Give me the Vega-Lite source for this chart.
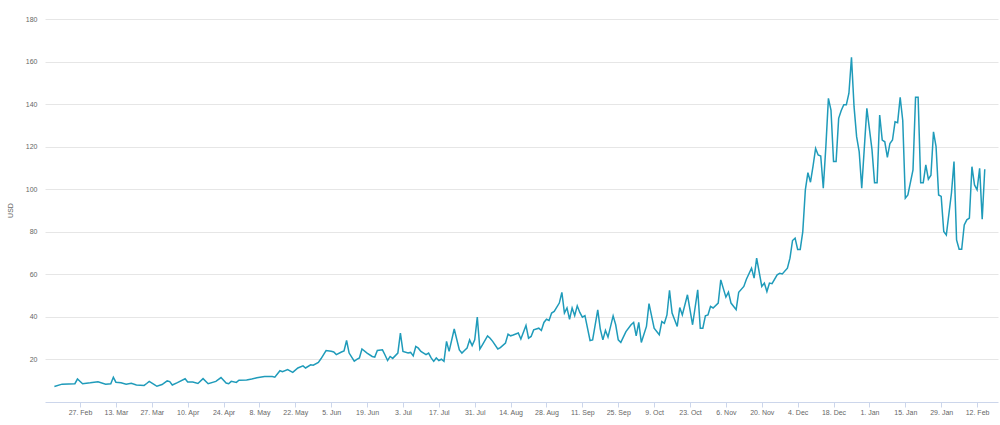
{
  "$schema": "https://vega.github.io/schema/vega-lite/v6.json",
  "width": 953,
  "height": 383,
  "autosize": {"type": "none"},
  "padding": {"left": 45, "top": 19, "right": 2, "bottom": 23},
  "background": "white",
  "config": {"view": {"stroke": null}, "font": "Liberation Sans"},
  "data": {"values": [
    {"date": "2017-02-17", "usd": 7.3}, {"date": "2017-02-20", "usd": 8.4}, {"date": "2017-02-25", "usd": 8.6}, {"date": "2017-02-26", "usd": 10.8}, {"date": "2017-02-28", "usd": 8.6},
    {"date": "2017-03-03", "usd": 9.0}, {"date": "2017-03-06", "usd": 9.5}, {"date": "2017-03-09", "usd": 8.4}, {"date": "2017-03-11", "usd": 8.6}, {"date": "2017-03-12", "usd": 11.6},
    {"date": "2017-03-13", "usd": 9.3}, {"date": "2017-03-15", "usd": 9.0}, {"date": "2017-03-17", "usd": 8.4}, {"date": "2017-03-19", "usd": 8.8}, {"date": "2017-03-21", "usd": 8.0},
    {"date": "2017-03-24", "usd": 7.8}, {"date": "2017-03-25", "usd": 8.7}, {"date": "2017-03-26", "usd": 9.7}, {"date": "2017-03-28", "usd": 8.2}, {"date": "2017-03-29", "usd": 7.4},
    {"date": "2017-03-31", "usd": 8.2}, {"date": "2017-04-02", "usd": 9.9}, {"date": "2017-04-03", "usd": 9.6}, {"date": "2017-04-04", "usd": 8.0}, {"date": "2017-04-06", "usd": 9.1},
    {"date": "2017-04-09", "usd": 10.9}, {"date": "2017-04-10", "usd": 9.4}, {"date": "2017-04-12", "usd": 9.4}, {"date": "2017-04-14", "usd": 8.7}, {"date": "2017-04-16", "usd": 11.0},
    {"date": "2017-04-18", "usd": 8.6}, {"date": "2017-04-21", "usd": 9.7}, {"date": "2017-04-23", "usd": 11.5}, {"date": "2017-04-25", "usd": 8.9}, {"date": "2017-04-26", "usd": 8.6},
    {"date": "2017-04-27", "usd": 9.7}, {"date": "2017-04-29", "usd": 9.2}, {"date": "2017-04-30", "usd": 10.2}, {"date": "2017-05-03", "usd": 10.3}, {"date": "2017-05-05", "usd": 10.8},
    {"date": "2017-05-07", "usd": 11.4}, {"date": "2017-05-10", "usd": 12.0}, {"date": "2017-05-13", "usd": 12.0}, {"date": "2017-05-14", "usd": 11.7}, {"date": "2017-05-16", "usd": 14.7},
    {"date": "2017-05-17", "usd": 14.2}, {"date": "2017-05-19", "usd": 15.2}, {"date": "2017-05-21", "usd": 13.9}, {"date": "2017-05-23", "usd": 16.0}, {"date": "2017-05-25", "usd": 17.0},
    {"date": "2017-05-26", "usd": 16.0}, {"date": "2017-05-28", "usd": 17.5}, {"date": "2017-05-29", "usd": 17.3}, {"date": "2017-05-31", "usd": 18.6}, {"date": "2017-06-01", "usd": 20.3},
    {"date": "2017-06-03", "usd": 24.2}, {"date": "2017-06-05", "usd": 23.8}, {"date": "2017-06-06", "usd": 23.5}, {"date": "2017-06-07", "usd": 22.3}, {"date": "2017-06-09", "usd": 23.5},
    {"date": "2017-06-10", "usd": 24.0}, {"date": "2017-06-11", "usd": 28.9}, {"date": "2017-06-12", "usd": 23.0}, {"date": "2017-06-14", "usd": 19.2}, {"date": "2017-06-15", "usd": 20.0},
    {"date": "2017-06-16", "usd": 20.7}, {"date": "2017-06-17", "usd": 24.9}, {"date": "2017-06-19", "usd": 23.0}, {"date": "2017-06-21", "usd": 21.4}, {"date": "2017-06-22", "usd": 21.1},
    {"date": "2017-06-23", "usd": 24.2}, {"date": "2017-06-25", "usd": 24.5}, {"date": "2017-06-26", "usd": 22.1}, {"date": "2017-06-27", "usd": 19.5}, {"date": "2017-06-28", "usd": 21.4},
    {"date": "2017-06-29", "usd": 20.5}, {"date": "2017-07-01", "usd": 23.0}, {"date": "2017-07-02", "usd": 32.4}, {"date": "2017-07-03", "usd": 23.8}, {"date": "2017-07-05", "usd": 23.0},
    {"date": "2017-07-06", "usd": 23.3}, {"date": "2017-07-07", "usd": 21.7}, {"date": "2017-07-08", "usd": 26.1}, {"date": "2017-07-09", "usd": 25.3}, {"date": "2017-07-10", "usd": 23.8},
    {"date": "2017-07-12", "usd": 22.3}, {"date": "2017-07-13", "usd": 23.0}, {"date": "2017-07-14", "usd": 20.7}, {"date": "2017-07-15", "usd": 19.1}, {"date": "2017-07-16", "usd": 20.7},
    {"date": "2017-07-17", "usd": 19.5}, {"date": "2017-07-18", "usd": 20.1}, {"date": "2017-07-19", "usd": 19.1}, {"date": "2017-07-20", "usd": 28.5}, {"date": "2017-07-21", "usd": 23.8},
    {"date": "2017-07-23", "usd": 34.3}, {"date": "2017-07-25", "usd": 24.5}, {"date": "2017-07-26", "usd": 23.0}, {"date": "2017-07-27", "usd": 24.2}, {"date": "2017-07-28", "usd": 25.3},
    {"date": "2017-07-29", "usd": 29.2}, {"date": "2017-07-30", "usd": 26.5}, {"date": "2017-07-31", "usd": 29.2}, {"date": "2017-08-01", "usd": 39.9}, {"date": "2017-08-02", "usd": 24.9},
    {"date": "2017-08-03", "usd": 26.9}, {"date": "2017-08-05", "usd": 31.1}, {"date": "2017-08-06", "usd": 30.0}, {"date": "2017-08-07", "usd": 28.5}, {"date": "2017-08-09", "usd": 24.9},
    {"date": "2017-08-10", "usd": 25.6}, {"date": "2017-08-12", "usd": 27.7}, {"date": "2017-08-13", "usd": 31.9}, {"date": "2017-08-14", "usd": 31.1}, {"date": "2017-08-15", "usd": 31.5},
    {"date": "2017-08-17", "usd": 32.4}, {"date": "2017-08-18", "usd": 29.6}, {"date": "2017-08-20", "usd": 36.0}, {"date": "2017-08-21", "usd": 30.0}, {"date": "2017-08-22", "usd": 30.8},
    {"date": "2017-08-23", "usd": 33.9}, {"date": "2017-08-25", "usd": 34.7}, {"date": "2017-08-26", "usd": 33.6}, {"date": "2017-08-27", "usd": 37.4}, {"date": "2017-08-28", "usd": 38.9},
    {"date": "2017-08-29", "usd": 38.3}, {"date": "2017-08-30", "usd": 41.8}, {"date": "2017-08-31", "usd": 42.6}, {"date": "2017-09-02", "usd": 46.5}, {"date": "2017-09-03", "usd": 51.5},
    {"date": "2017-09-04", "usd": 41.8}, {"date": "2017-09-05", "usd": 44.2}, {"date": "2017-09-06", "usd": 38.9}, {"date": "2017-09-07", "usd": 44.2}, {"date": "2017-09-08", "usd": 40.6},
    {"date": "2017-09-09", "usd": 45.2}, {"date": "2017-09-10", "usd": 42.1}, {"date": "2017-09-11", "usd": 39.9}, {"date": "2017-09-12", "usd": 40.6}, {"date": "2017-09-14", "usd": 28.9},
    {"date": "2017-09-15", "usd": 29.2}, {"date": "2017-09-17", "usd": 43.3}, {"date": "2017-09-18", "usd": 34.2}, {"date": "2017-09-19", "usd": 29.2}, {"date": "2017-09-20", "usd": 33.6},
    {"date": "2017-09-21", "usd": 30.5}, {"date": "2017-09-23", "usd": 40.5}, {"date": "2017-09-24", "usd": 36.3}, {"date": "2017-09-25", "usd": 29.2}, {"date": "2017-09-26", "usd": 28.0},
    {"date": "2017-09-28", "usd": 33.1}, {"date": "2017-09-30", "usd": 36.3}, {"date": "2017-10-01", "usd": 37.4}, {"date": "2017-10-02", "usd": 31.1}, {"date": "2017-10-03", "usd": 37.4},
    {"date": "2017-10-04", "usd": 28.0}, {"date": "2017-10-06", "usd": 35.5}, {"date": "2017-10-07", "usd": 46.2}, {"date": "2017-10-09", "usd": 34.7}, {"date": "2017-10-11", "usd": 31.6},
    {"date": "2017-10-12", "usd": 37.8}, {"date": "2017-10-13", "usd": 37.0}, {"date": "2017-10-14", "usd": 40.9}, {"date": "2017-10-15", "usd": 52.5}, {"date": "2017-10-16", "usd": 41.8},
    {"date": "2017-10-18", "usd": 35.5}, {"date": "2017-10-19", "usd": 44.4}, {"date": "2017-10-20", "usd": 40.9}, {"date": "2017-10-22", "usd": 50.4}, {"date": "2017-10-24", "usd": 36.3},
    {"date": "2017-10-26", "usd": 52.7}, {"date": "2017-10-27", "usd": 34.7}, {"date": "2017-10-28", "usd": 34.7}, {"date": "2017-10-29", "usd": 40.5}, {"date": "2017-10-30", "usd": 40.9},
    {"date": "2017-10-31", "usd": 44.9}, {"date": "2017-11-01", "usd": 44.2}, {"date": "2017-11-03", "usd": 46.5}, {"date": "2017-11-04", "usd": 57.4}, {"date": "2017-11-06", "usd": 49.3},
    {"date": "2017-11-07", "usd": 51.6}, {"date": "2017-11-08", "usd": 46.5}, {"date": "2017-11-10", "usd": 43.4}, {"date": "2017-11-11", "usd": 51.6}, {"date": "2017-11-13", "usd": 54.3},
    {"date": "2017-11-14", "usd": 57.7}, {"date": "2017-11-16", "usd": 62.9}, {"date": "2017-11-17", "usd": 58.2}, {"date": "2017-11-18", "usd": 67.6}, {"date": "2017-11-20", "usd": 54.3},
    {"date": "2017-11-21", "usd": 55.9}, {"date": "2017-11-22", "usd": 51.9}, {"date": "2017-11-23", "usd": 55.9}, {"date": "2017-11-24", "usd": 55.6}, {"date": "2017-11-26", "usd": 59.8},
    {"date": "2017-11-27", "usd": 60.5}, {"date": "2017-11-28", "usd": 60.2}, {"date": "2017-11-30", "usd": 62.9}, {"date": "2017-12-01", "usd": 67.6}, {"date": "2017-12-02", "usd": 75.9},
    {"date": "2017-12-03", "usd": 77.0}, {"date": "2017-12-04", "usd": 71.7}, {"date": "2017-12-05", "usd": 71.7}, {"date": "2017-12-06", "usd": 80.1}, {"date": "2017-12-07", "usd": 99.7},
    {"date": "2017-12-08", "usd": 107.8}, {"date": "2017-12-09", "usd": 103.3}, {"date": "2017-12-10", "usd": 110.9}, {"date": "2017-12-11", "usd": 119.2}, {"date": "2017-12-12", "usd": 116.1},
    {"date": "2017-12-13", "usd": 115.6}, {"date": "2017-12-14", "usd": 100.5}, {"date": "2017-12-15", "usd": 120.0}, {"date": "2017-12-16", "usd": 142.7}, {"date": "2017-12-17", "usd": 137.2},
    {"date": "2017-12-18", "usd": 113.0}, {"date": "2017-12-19", "usd": 113.0}, {"date": "2017-12-20", "usd": 133.3}, {"date": "2017-12-21", "usd": 137.0}, {"date": "2017-12-22", "usd": 139.7},
    {"date": "2017-12-23", "usd": 139.7}, {"date": "2017-12-24", "usd": 145.1}, {"date": "2017-12-25", "usd": 162.0}, {"date": "2017-12-26", "usd": 138.8}, {"date": "2017-12-27", "usd": 124.7},
    {"date": "2017-12-28", "usd": 117.7}, {"date": "2017-12-29", "usd": 100.5}, {"date": "2017-12-31", "usd": 138.0}, {"date": "2018-01-02", "usd": 118.6}, {"date": "2018-01-03", "usd": 103.1},
    {"date": "2018-01-04", "usd": 103.1}, {"date": "2018-01-05", "usd": 134.9}, {"date": "2018-01-06", "usd": 123.1}, {"date": "2018-01-07", "usd": 122.3}, {"date": "2018-01-08", "usd": 115.0},
    {"date": "2018-01-09", "usd": 121.5}, {"date": "2018-01-10", "usd": 123.1}, {"date": "2018-01-11", "usd": 131.7}, {"date": "2018-01-12", "usd": 131.3}, {"date": "2018-01-13", "usd": 143.2},
    {"date": "2018-01-14", "usd": 132.3}, {"date": "2018-01-15", "usd": 95.8}, {"date": "2018-01-16", "usd": 97.3}, {"date": "2018-01-18", "usd": 109.1}, {"date": "2018-01-19", "usd": 143.2},
    {"date": "2018-01-20", "usd": 143.2}, {"date": "2018-01-21", "usd": 103.1}, {"date": "2018-01-22", "usd": 103.1}, {"date": "2018-01-23", "usd": 111.4}, {"date": "2018-01-24", "usd": 104.7},
    {"date": "2018-01-25", "usd": 106.6}, {"date": "2018-01-26", "usd": 127.0}, {"date": "2018-01-27", "usd": 120.0}, {"date": "2018-01-28", "usd": 97.3}, {"date": "2018-01-29", "usd": 96.6},
    {"date": "2018-01-30", "usd": 80.1}, {"date": "2018-01-31", "usd": 78.5}, {"date": "2018-02-02", "usd": 98.1}, {"date": "2018-02-03", "usd": 113.0}, {"date": "2018-02-04", "usd": 76.2},
    {"date": "2018-02-05", "usd": 71.8}, {"date": "2018-02-06", "usd": 71.8}, {"date": "2018-02-07", "usd": 83.2}, {"date": "2018-02-08", "usd": 85.6}, {"date": "2018-02-09", "usd": 86.4},
    {"date": "2018-02-10", "usd": 110.6}, {"date": "2018-02-11", "usd": 102.0}, {"date": "2018-02-12", "usd": 99.7}, {"date": "2018-02-13", "usd": 109.8}, {"date": "2018-02-14", "usd": 85.9},
    {"date": "2018-02-15", "usd": 109.4}
  ]},
  "mark": {"type": "line", "color": "#1f9bba", "strokeWidth": 1.5},
  "encoding": {
    "x": {
      "field": "date",
      "type": "temporal",
      "scale": {"type": "utc", "domain": [
        {"year": 2017, "month": 2, "date": 13, "hours": 8, "utc": true},
        {"year": 2018, "month": 2, "date": 20, "hours": 4, "utc": true}
      ]},
      "axis": {
        "title": null,
        "grid": false,
        "format": "%-d. %b",
        "values": [
          {"year": 2017, "month": 2, "date": 27, "utc": true},
          {"year": 2017, "month": 3, "date": 13, "utc": true},
          {"year": 2017, "month": 3, "date": 27, "utc": true},
          {"year": 2017, "month": 4, "date": 10, "utc": true},
          {"year": 2017, "month": 4, "date": 24, "utc": true},
          {"year": 2017, "month": 5, "date": 8, "utc": true},
          {"year": 2017, "month": 5, "date": 22, "utc": true},
          {"year": 2017, "month": 6, "date": 5, "utc": true},
          {"year": 2017, "month": 6, "date": 19, "utc": true},
          {"year": 2017, "month": 7, "date": 3, "utc": true},
          {"year": 2017, "month": 7, "date": 17, "utc": true},
          {"year": 2017, "month": 7, "date": 31, "utc": true},
          {"year": 2017, "month": 8, "date": 14, "utc": true},
          {"year": 2017, "month": 8, "date": 28, "utc": true},
          {"year": 2017, "month": 9, "date": 11, "utc": true},
          {"year": 2017, "month": 9, "date": 25, "utc": true},
          {"year": 2017, "month": 10, "date": 9, "utc": true},
          {"year": 2017, "month": 10, "date": 23, "utc": true},
          {"year": 2017, "month": 11, "date": 6, "utc": true},
          {"year": 2017, "month": 11, "date": 20, "utc": true},
          {"year": 2017, "month": 12, "date": 4, "utc": true},
          {"year": 2017, "month": 12, "date": 18, "utc": true},
          {"year": 2018, "month": 1, "date": 1, "utc": true},
          {"year": 2018, "month": 1, "date": 15, "utc": true},
          {"year": 2018, "month": 1, "date": 29, "utc": true},
          {"year": 2018, "month": 2, "date": 12, "utc": true}
        ],
        "labelFontSize": 7,
        "labelColor": "#666666",
        "labelPadding": 1,
        "labelOverlap": false,
        "labelFlush": false,
        "domainColor": "#ccd6eb",
        "tickColor": "#ccd6eb",
        "tickSize": 5
      }
    },
    "y": {
      "field": "usd",
      "type": "quantitative",
      "scale": {"domain": [0, 180], "nice": false, "zero": true},
      "axis": {
        "title": "USD",
        "values": [20, 40, 60, 80, 100, 120, 140, 160, 180],
        "domain": false,
        "ticks": false,
        "labelPadding": 8,
        "labelFontSize": 7,
        "labelColor": "#666666",
        "gridColor": "#e6e6e6",
        "titleFontSize": 7,
        "titleFontWeight": "normal",
        "titleColor": "#666666",
        "titleX": -35,
        "titleY": 191,
        "titleAngle": 270,
        "titleAlign": "center",
        "titleBaseline": "middle"
      }
    }
  }
}
